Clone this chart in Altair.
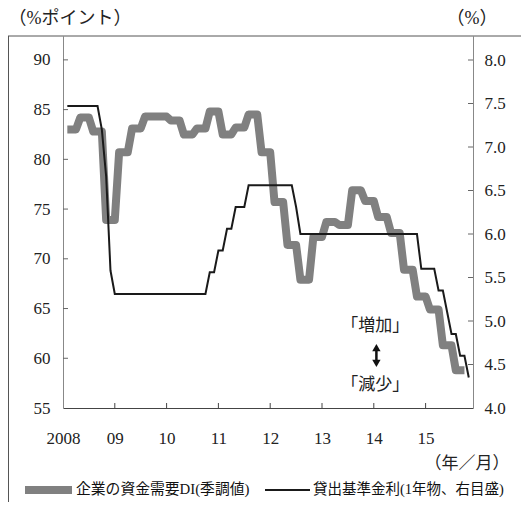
import altair as alt
import pandas as pd

FONT = "Liberation Serif, Noto Sans CJK JP"

# Quarterly loan-demand DI (seasonally adjusted), 2008Q1 - 2015Q3
di_quarterly = [83.0, 84.2, 82.8, 73.9,
                80.7, 83.1, 84.3, 84.3,
                83.9, 82.5, 83.1, 84.8,
                82.5, 83.2, 84.5, 80.7,
                75.7, 71.4, 67.9, 72.2,
                73.7, 73.4, 76.9, 75.8,
                74.2, 72.6, 68.9, 66.2,
                64.9, 61.3, 58.8]

# Monthly benchmark lending rate (1 year), Jan 2008 - Oct 2015
rate_2008 = [7.47, 7.47, 7.47, 7.47, 7.47, 7.47, 7.47, 7.47, 7.20, 6.66, 5.58, 5.31]
rate_2009 = [5.31, 5.31, 5.31, 5.31, 5.31, 5.31, 5.31, 5.31, 5.31, 5.31, 5.31, 5.31]
rate_2010 = [5.31, 5.31, 5.31, 5.31, 5.31, 5.31, 5.31, 5.31, 5.31, 5.56, 5.56, 5.81]
rate_2011 = [5.81, 6.06, 6.06, 6.31, 6.31, 6.31, 6.56, 6.56, 6.56, 6.56, 6.56, 6.56]
rate_2012 = [6.56, 6.56, 6.56, 6.56, 6.56, 6.31, 6.00, 6.00, 6.00, 6.00, 6.00, 6.00]
rate_2013 = [6.00, 6.00, 6.00, 6.00, 6.00, 6.00, 6.00, 6.00, 6.00, 6.00, 6.00, 6.00]
rate_2014 = [6.00, 6.00, 6.00, 6.00, 6.00, 6.00, 6.00, 6.00, 6.00, 6.00, 5.60, 5.60]
rate_2015 = [5.60, 5.60, 5.35, 5.35, 5.10, 4.85, 4.85, 4.60, 4.60, 4.35]

year_ticks = [2008, 2009, 2010, 2011, 2012, 2013, 2014, 2015]
left_ticks = [55, 60, 65, 70, 75, 80, 85, 90]
right_ticks = [4.0, 4.5, 5.0, 5.5, 6.0, 6.5, 7.0, 7.5, 8.0]
series_names = ["企業の資金需要DI(季調値)", "貸出基準金利(1年物、右目盛)"]
series_colors = ["#808080", "#1a1a1a"]

ann_labels = ["「増加」", "「減少」"]
ann_t = [2014.03, 2014.03]
ann_v = [63.25, 57.31]

# ---- build tables ----
di_monthly = [v for v in di_quarterly for _ in range(3)]
di_df = pd.DataFrame({"t": [2008 + (i + 1) / 12 for i in range(len(di_monthly))],
                      "v": di_monthly})
rates = rate_2008 + rate_2009 + rate_2010 + rate_2011 + rate_2012 + rate_2013 + rate_2014 + rate_2015
rate_df = pd.DataFrame({"t": [2008 + (i + 1) / 12 for i in range(len(rates))],
                        "r": rates})

W, H = 410, 372
PAD_R, PAD_B = 48, 94
x_scale = alt.Scale(domain=[2008, 2015.915], nice=False, zero=False)
y_left = alt.Scale(domain=[55, 92.4], nice=False, zero=False)
y_right = alt.Scale(domain=[4, 8.276], nice=False, zero=False)

x_axis = alt.Axis(values=year_ticks,
                  labelExpr="datum.value == 2008 ? '2008' : substring(toString(datum.value), 2, 4)",
                  labelFlush=False, labelOverlap=False, labelFont=FONT, labelFontSize=17,
                  labelColor="#222", labelPadding=22, ticks=False, tickSize=0,
                  domainColor="#444", grid=False,
                  title="（年／月）", titleFont=FONT, titleFontSize=17, titleFontWeight="normal",
                  titleColor="#222", titleX=446, titleY=55, titleAlign="right",
                  titleBaseline="middle")
left_axis = alt.Axis(values=left_ticks, orient="left", ticks=False, tickSize=0,
                     labelPadding=13, labelFont=FONT, labelFontSize=17, labelColor="#222",
                     domainColor="#888", grid=False,
                     title="（%ポイント）", titleFont=FONT, titleFontSize=18,
                     titleFontWeight="normal", titleColor="#222", titleAngle=0,
                     titleX=-55, titleY=-18, titleAlign="left", titleBaseline="middle")
right_axis = alt.Axis(values=right_ticks, format=".1f", orient="right", ticks=False,
                      tickSize=0, labelPadding=11, labelFont=FONT, labelFontSize=17,
                      labelColor="#222", domainColor="#888", grid=False,
                      title="（%）", titleFont=FONT, titleFontSize=18,
                      titleFontWeight="normal", titleColor="#222", titleAngle=0,
                      titleX=-1.5, titleY=-18, titleAlign="center", titleBaseline="middle")

gray = alt.Chart(di_df).mark_line(strokeJoin="round", strokeCap="butt", strokeWidth=8,
                                  color=series_colors[0]).encode(
    x=alt.X("t:Q", scale=x_scale, axis=x_axis),
    y=alt.Y("v:Q", scale=y_left, axis=left_axis),
)
black = alt.Chart(rate_df).mark_line(strokeWidth=2, color=series_colors[1]).encode(
    x=alt.X("t:Q", scale=x_scale),
    y=alt.Y("r:Q", scale=y_right, axis=right_axis),
)

one = pd.DataFrame({"a": [0]})
frame_top = alt.Chart(one).mark_rule(color="#555", strokeWidth=1).encode(
    x=alt.value(-55), x2=alt.value(W + PAD_R), y=alt.value(0))
frame_left = alt.Chart(one).mark_rule(color="#555", strokeWidth=1).encode(
    x=alt.value(-54.5), y=alt.value(0), y2=alt.value(H + PAD_B))

bottom_tk = alt.Chart(pd.DataFrame({"t": year_ticks[1:]})).mark_rule(color="#444").encode(
    x=alt.X("t:Q", scale=x_scale), y=alt.value(H), y2=alt.value(H - 5))
left_tk = alt.Chart(pd.DataFrame({"v": left_ticks[1:]})).mark_rule(color="#666").encode(
    y=alt.Y("v:Q", scale=y_left, axis=None), x=alt.value(0), x2=alt.value(5))
right_tk = alt.Chart(pd.DataFrame({"r": right_ticks[1:]})).mark_rule(color="#666").encode(
    y=alt.Y("r:Q", scale=y_right, axis=None), x=alt.value(W), x2=alt.value(W - 5))

ann = alt.Chart(pd.DataFrame({"t": ann_t, "v": ann_v, "label": ann_labels})).mark_text(
    font=FONT, fontSize=17, color="#222").encode(
    x=alt.X("t:Q", scale=x_scale),
    y=alt.Y("v:Q", scale=y_left, axis=None),
    text="label:N")
arrow_line = alt.Chart(pd.DataFrame({"t": [2014.05], "v": [61.0], "v2": [59.5]})).mark_rule(
    color="#111", strokeWidth=2.5).encode(
    x=alt.X("t:Q", scale=x_scale),
    y=alt.Y("v:Q", scale=y_left, axis=None), y2="v2:Q")
arrow_heads = alt.Chart(pd.DataFrame({"t": [2014.05, 2014.05], "v": [61.08, 59.48],
                                      "shape": ["triangle-up", "triangle-down"]})).mark_point(
    filled=True, size=70, color="#111", opacity=1).encode(
    x=alt.X("t:Q", scale=x_scale),
    y=alt.Y("v:Q", scale=y_left, axis=None),
    shape=alt.Shape("shape:N", scale=None))

# legend (drawn as decoration below the plot)
leg_sym = alt.Chart(one).mark_rule(color=series_colors[0], strokeWidth=8).encode(
    x=alt.value(-38), x2=alt.value(9), y=alt.value(H + 82))
leg_sym2 = alt.Chart(one).mark_rule(color=series_colors[1], strokeWidth=2).encode(
    x=alt.value(202), x2=alt.value(247), y=alt.value(H + 82))
leg_txt = alt.Chart(one).mark_text(
    font=FONT, fontSize=14.8, color="#111", align="left", baseline="middle").encode(
    x=alt.value(13), y=alt.value(H + 82), text=alt.value(series_names[0]))
leg_txt2 = alt.Chart(one).mark_text(
    font=FONT, fontSize=14.5, color="#111", align="left", baseline="middle").encode(
    x=alt.value(250), y=alt.value(H + 82), text=alt.value(series_names[1]))

chart = alt.layer(gray, black, frame_top, frame_left, bottom_tk, left_tk, right_tk,
                  ann, arrow_line, arrow_heads,
                  leg_sym, leg_sym2, leg_txt, leg_txt2).resolve_scale(
    y="independent").properties(
    width=W, height=H,
    autosize=alt.AutoSizeParams(type="none"),
    padding={"left": 55, "top": 28, "right": PAD_R, "bottom": PAD_B},
    background="white",
).configure_view(stroke=None)

chart.save("out.html", embed_options={"renderer": "svg", "actions": False})
